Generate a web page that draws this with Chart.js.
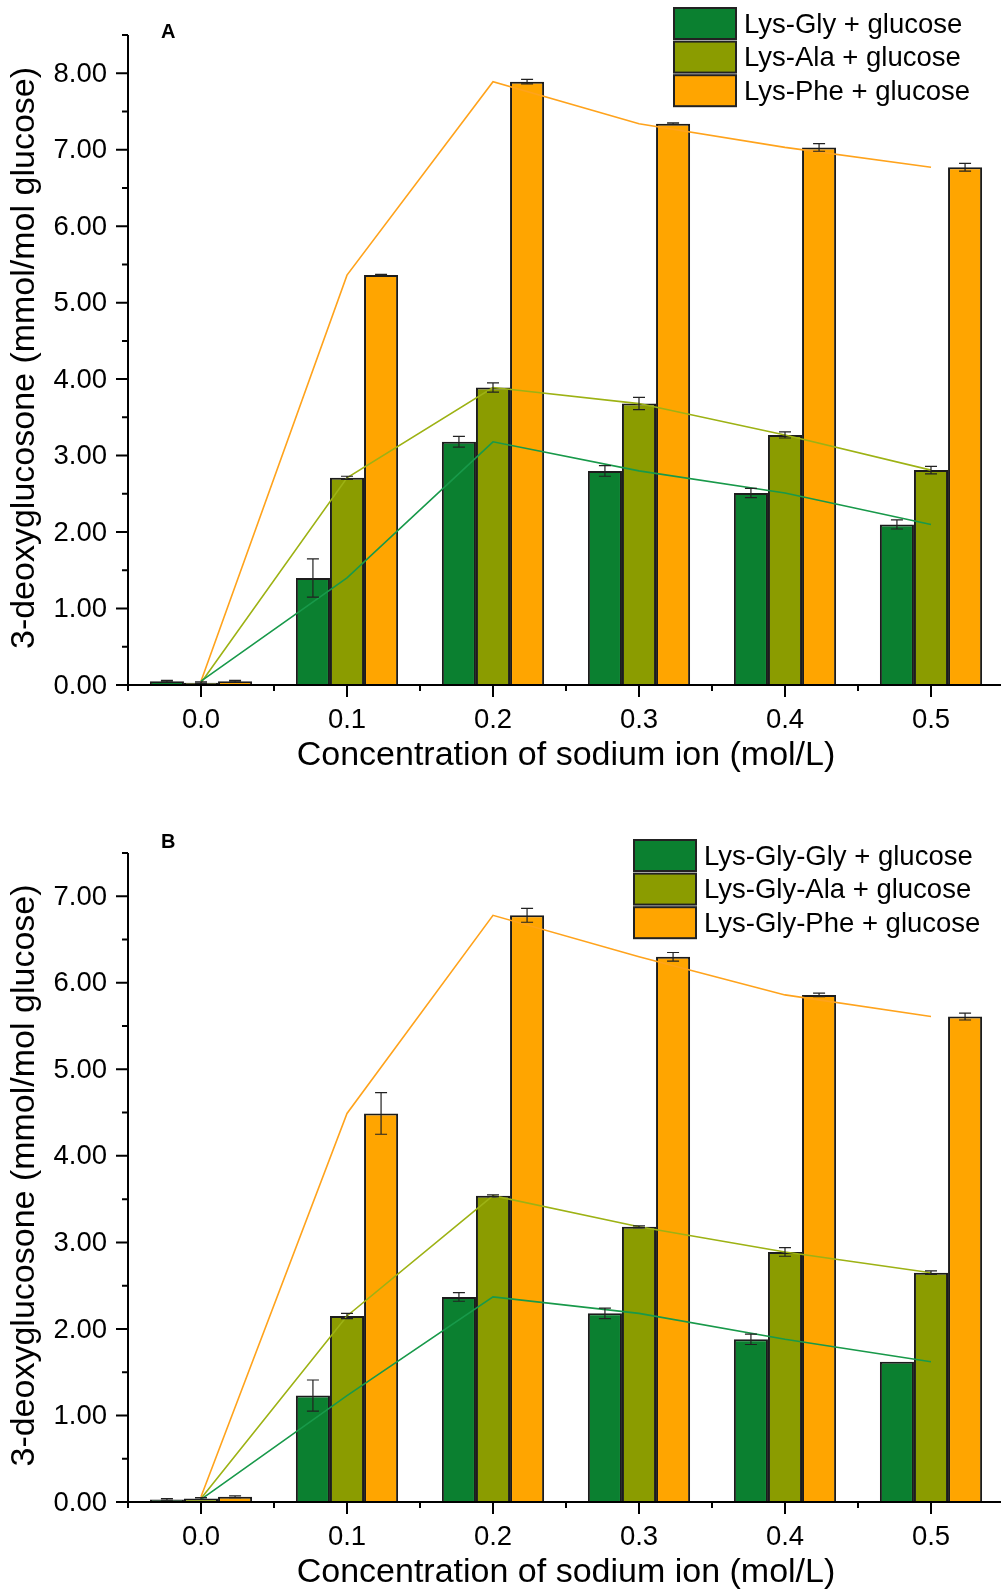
<!DOCTYPE html>
<html>
<head>
<meta charset="utf-8">
<script src="https://cdn.jsdelivr.net/npm/chart.js@4.4.1/dist/chart.umd.min.js"></script>
<style>
  html, body { margin: 0; padding: 0; background: #fff; overflow: hidden; }
  canvas { display: block; }
</style>
</head>
<body>
<canvas id="chartA" width="1004" height="795"></canvas>
<canvas id="chartB" width="1004" height="796"></canvas>
<script>
const categories = ['0.0', '0.1', '0.2', '0.3', '0.4', '0.5'];

// Panel A - dipeptides
const labelsA = ['Lys-Gly + glucose', 'Lys-Ala + glucose', 'Lys-Phe + glucose'];
const lysGly = [0.05, 1.40, 3.18, 2.80, 2.51, 2.10];
const lysGlyErr = [0.01, 0.25, 0.07, 0.07, 0.06, 0.06];
const lysAla = [0.03, 2.71, 3.89, 3.68, 3.27, 2.81];
const lysAlaErr = [0.01, 0.02, 0.06, 0.08, 0.04, 0.05];
const lysPhe = [0.05, 5.36, 7.89, 7.34, 7.03, 6.77];
const lysPheErr = [0.01, 0.01, 0.03, 0.01, 0.05, 0.05];
const yTicksA = [0, 1, 2, 3, 4, 5, 6, 7, 8];

// Panel B - tripeptides
const labelsB = ['Lys-Gly-Gly + glucose', 'Lys-Gly-Ala + glucose', 'Lys-Gly-Phe + glucose'];
const lysGlyGly = [0.03, 1.23, 2.37, 2.18, 1.88, 1.62];
const lysGlyGlyErr = [0.01, 0.18, 0.05, 0.06, 0.06, 0.0];
const lysGlyAla = [0.04, 2.15, 3.54, 3.18, 2.89, 2.65];
const lysGlyAlaErr = [0.01, 0.03, 0.01, 0.01, 0.05, 0.02];
const lysGlyPhe = [0.06, 4.49, 6.78, 6.30, 5.86, 5.61];
const lysGlyPheErr = [0.01, 0.24, 0.08, 0.05, 0.02, 0.04];
const yTicksB = [0, 1, 2, 3, 4, 5, 6, 7];

const barColors = ['#0b8030', '#8b9c00', '#ffa500'];
const lineColors = ['#18994a', '#9db214', '#ffa31c'];
const FONT = '"Liberation Sans", Arial, sans-serif';

// axes, ticks, titles, legend and error bars drawn with the chart's own scales
const extras = {
  id: 'extras',
  afterDatasetsDraw(chart) {
    const o = chart.options.plugins.extras;
    const ctx = chart.ctx;
    const area = chart.chartArea;
    const xs = chart.scales.x;
    const ys = chart.scales.y;

    // error bars
    ctx.save();
    ctx.strokeStyle = '#222';
    ctx.lineWidth = 1.2;
    chart.data.datasets.forEach((ds, i) => {
      if (ds.type !== 'bar') return;
      const meta = chart.getDatasetMeta(i);
      meta.data.forEach((bar, j) => {
        const e = ds.err[j];
        if (!e) return;
        const yt = ys.getPixelForValue(ds.data[j] + e);
        const yb = ys.getPixelForValue(ds.data[j] - e);
        ctx.beginPath();
        ctx.moveTo(bar.x, yt); ctx.lineTo(bar.x, yb);
        ctx.moveTo(bar.x - 6, yt); ctx.lineTo(bar.x + 6, yt);
        ctx.moveTo(bar.x - 6, yb); ctx.lineTo(bar.x + 6, yb);
        ctx.stroke();
      });
    });
    ctx.restore();

    ctx.save();
    ctx.strokeStyle = '#000';
    ctx.fillStyle = '#000';
    ctx.lineWidth = 2;
    // axis lines
    ctx.beginPath();
    ctx.moveTo(area.left, area.top);
    ctx.lineTo(area.left, area.bottom);
    ctx.lineTo(area.right, area.bottom);
    ctx.stroke();

    // y ticks
    ctx.font = '27.5px ' + FONT;
    ctx.textAlign = 'right';
    ctx.textBaseline = 'middle';
    o.yTicks.forEach(v => {
      const y = ys.getPixelForValue(v);
      ctx.beginPath();
      ctx.moveTo(area.left - 12, y); ctx.lineTo(area.left, y);
      const ym = ys.getPixelForValue(v + 0.5);
      ctx.moveTo(area.left - 6, ym); ctx.lineTo(area.left, ym);
      ctx.stroke();
      ctx.fillText(v.toFixed(2), area.left - 21, y + 1);
    });

    // x ticks
    ctx.textAlign = 'center';
    const step = xs.getPixelForValue(1) - xs.getPixelForValue(0);
    categories.forEach((c, i) => {
      const x = xs.getPixelForValue(i);
      ctx.beginPath();
      ctx.moveTo(x, area.bottom); ctx.lineTo(x, area.bottom + 12);
      ctx.moveTo(x - step / 2, area.bottom); ctx.lineTo(x - step / 2, area.bottom + 6);
      ctx.stroke();
      ctx.fillText(c, x, area.bottom + 35);
    });

    // axis titles
    ctx.font = '34px ' + FONT;
    ctx.fillText('Concentration of sodium ion (mol/L)', (area.left + area.right) / 2, area.bottom + 71);
    ctx.save();
    ctx.translate(25, (area.top + area.bottom) / 2 - 2);
    ctx.rotate(-Math.PI / 2);
    ctx.fillText('3-deoxyglucosone (mmol/mol glucose)', 0, 0);
    ctx.restore();

    // panel letter
    ctx.font = 'bold 20px ' + FONT;
    ctx.textAlign = 'left';
    ctx.fillText(o.panel, 161, o.panelY);

    // legend
    ctx.font = '27.5px ' + FONT;
    ctx.textAlign = 'left';
    chart.data.datasets.filter(d => d.type === 'bar').forEach((ds, i) => {
      const y = o.legendY + i * 33.6;
      ctx.fillStyle = ds.backgroundColor;
      ctx.fillRect(o.legendX, y, 62, 31);
      ctx.lineWidth = 2;
      ctx.strokeStyle = '#222';
      ctx.strokeRect(o.legendX, y, 62, 31);
      ctx.fillStyle = '#000';
      ctx.fillText(ds.label, o.legendX + 70, y + 17);
    });
    ctx.restore();
  }
};

function makeChart(id, names, values, errs, yMax, yTicks, pad, legendX, legendY, panel, panelY) {
  const datasets = [];
  names.forEach((n, i) => {
    datasets.push({
      type: 'bar',
      label: n,
      data: values[i],
      err: errs[i],
      backgroundColor: barColors[i],
      borderColor: '#1c1c1c',
      borderWidth: 2,
      order: 2
    });
  });
  names.forEach((n, i) => {
    datasets.push({
      type: 'line',
      label: n + ' line',
      data: values[i],
      borderColor: lineColors[i],
      borderWidth: 1.6,
      pointRadius: 0,
      tension: 0,
      fill: false,
      order: 1
    });
  });

  new Chart(document.getElementById(id), {
    data: { labels: categories, datasets: datasets },
    options: {
      responsive: false,
      animation: false,
      layout: { padding: pad },
      datasets: { bar: { categoryPercentage: 0.7, barPercentage: 1.0 } },
      scales: {
        x: { type: 'category', offset: true, display: false },
        y: { min: 0, max: yMax, display: false }
      },
      plugins: {
        legend: { display: false },
        tooltip: { enabled: false },
        extras: { yTicks: yTicks, legendX: legendX, legendY: legendY, panel: panel, panelY: panelY }
      }
    },
    plugins: [extras]
  });
}

makeChart('chartA', labelsA, [lysGly, lysAla, lysPhe], [lysGlyErr, lysAlaErr, lysPheErr],
  8.5, yTicksA, { left: 128, top: 35, right: 0, bottom: 110 }, 674, 8, 'A', 32);
makeChart('chartB', labelsB, [lysGlyGly, lysGlyAla, lysGlyPhe], [lysGlyGlyErr, lysGlyAlaErr, lysGlyPheErr],
  7.5, yTicksB, { left: 128, top: 58, right: 0, bottom: 89 }, 634, 45, 'B', 47);
</script>
</body>
</html>
